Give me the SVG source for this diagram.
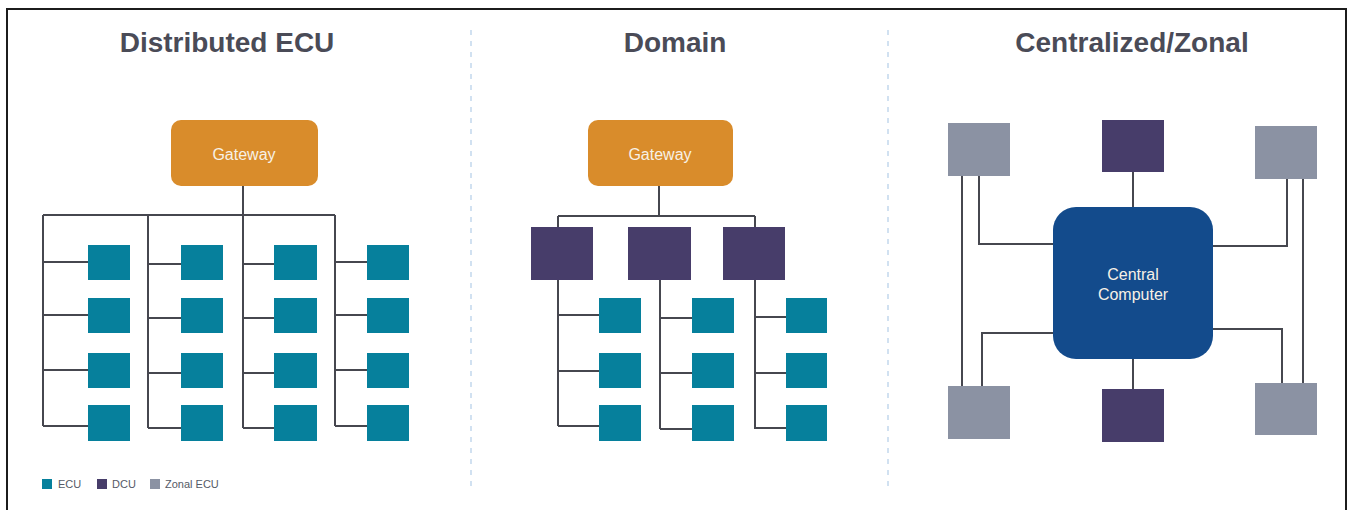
<svg xmlns="http://www.w3.org/2000/svg" width="1350" height="510" viewBox="0 0 1350 510">
  <style>
    .title { font-family: "Liberation Sans", Arial, sans-serif; font-weight: bold; font-size: 28px; fill: #4a4b57; text-anchor: middle; }
    .label { font-family: "Liberation Sans", Arial, sans-serif; font-size: 16px; fill: #f7f1e6; text-anchor: middle; }
    .legend { font-family: "Liberation Sans", Arial, sans-serif; font-size: 11px; fill: #555a66; }
    .ecu { fill: #06809c; }
    .dcu { fill: #473d6a; }
    .zonal { fill: #8b92a3; }
    .gateway { fill: #d98c2b; }
    .central { fill: #134b8c; }
    .wire { fill: none; stroke: #46474f; stroke-width: 2; }
    .sep { stroke: #b9d1ea; stroke-width: 1.3; stroke-dasharray: 5 6; }
  </style>

  <rect x="0" y="0" width="1350" height="510" fill="#ffffff"/>
  <!-- outer frame (open at the bottom) -->
  <path d="M7,510 V9 H1346 V510" fill="none" stroke="#1c1c1c" stroke-width="2"/>

  <!-- section separators -->
  <line class="sep" x1="471" y1="30" x2="471" y2="488"/>
  <line class="sep" x1="888" y1="30" x2="888" y2="488"/>

  <!-- titles -->
  <text class="title" x="227" y="52">Distributed ECU</text>
  <text class="title" x="675" y="52">Domain</text>
  <text class="title" x="1132" y="52">Centralized/Zonal</text>

  <!-- connectors -->
  <g id="connectors">
    <!-- distributed -->
    <path class="wire" d="M243,186 V215 M43,215 H335"/>
    <path class="wire" d="M43,215 V426 M43,262 H88 M43,315 H88 M43,370 H88 M43,426 H88"/>
    <path class="wire" d="M148,215 V428 M148,264 H181 M148,318 H181 M148,373 H181 M148,428 H181"/>
    <path class="wire" d="M243,215 V428 M243,264 H274 M243,318 H274 M243,373 H274 M243,428 H274"/>
    <path class="wire" d="M335,215 V426 M335,262 H367 M335,315 H367 M335,370 H367 M335,426 H367"/>
    <!-- domain -->
    <path class="wire" d="M659,186 V216 M558,216 H755 M558,216 V227 M755,216 V227"/>
    <path class="wire" d="M558,280 V426 M558,315 H599 M558,371 H599 M558,426 H599"/>
    <path class="wire" d="M660,280 V429 M660,318 H692 M660,373 H692 M660,429 H692"/>
    <path class="wire" d="M755,280 V429 M755,317 H786 M755,373 H786 M755,428 H786"/>
    <!-- centralized / zonal -->
    <path class="wire" d="M1133,172 V207 M1133,359 V389"/>
    <path class="wire" d="M962,176 V386 M979,176 V244 H1053 M982,386 V333 H1053"/>
    <path class="wire" d="M1303,179 V383 M1287,179 V246 H1213 M1282,383 V329 H1213"/>
  </g>

  <!-- Distributed ECU -->
  <g id="gateway-distributed">
    <rect class="gateway" x="171" y="120" width="147" height="66" rx="10"/>
    <text class="label" x="244" y="160">Gateway</text>
  </g>
  <g id="ecus-distributed">
    <rect class="ecu" x="88" y="245" width="42" height="35"/>
    <rect class="ecu" x="88" y="298" width="42" height="35"/>
    <rect class="ecu" x="88" y="353" width="42" height="35"/>
    <rect class="ecu" x="88" y="405" width="42" height="36"/>
    <rect class="ecu" x="181" y="245" width="42" height="35"/>
    <rect class="ecu" x="181" y="298" width="42" height="35"/>
    <rect class="ecu" x="181" y="353" width="42" height="35"/>
    <rect class="ecu" x="181" y="405" width="42" height="36"/>
    <rect class="ecu" x="274" y="245" width="43" height="35"/>
    <rect class="ecu" x="274" y="298" width="43" height="35"/>
    <rect class="ecu" x="274" y="353" width="43" height="35"/>
    <rect class="ecu" x="274" y="405" width="43" height="36"/>
    <rect class="ecu" x="367" y="245" width="42" height="35"/>
    <rect class="ecu" x="367" y="298" width="42" height="35"/>
    <rect class="ecu" x="367" y="353" width="42" height="35"/>
    <rect class="ecu" x="367" y="405" width="42" height="36"/>
  </g>

  <!-- Domain -->
  <g id="gateway-domain">
    <rect class="gateway" x="588" y="120" width="145" height="66" rx="10"/>
    <text class="label" x="660" y="160">Gateway</text>
  </g>
  <g id="dcus-domain">
    <rect class="dcu" x="531" y="227" width="62" height="53"/>
    <rect class="dcu" x="628" y="227" width="63" height="53"/>
    <rect class="dcu" x="723" y="227" width="62" height="53"/>
  </g>
  <g id="ecus-domain">
    <rect class="ecu" x="599" y="298" width="42" height="35"/>
    <rect class="ecu" x="599" y="353" width="42" height="35"/>
    <rect class="ecu" x="599" y="405" width="42" height="36"/>
    <rect class="ecu" x="692" y="298" width="42" height="35"/>
    <rect class="ecu" x="692" y="353" width="42" height="35"/>
    <rect class="ecu" x="692" y="405" width="42" height="36"/>
    <rect class="ecu" x="786" y="298" width="41" height="35"/>
    <rect class="ecu" x="786" y="353" width="41" height="35"/>
    <rect class="ecu" x="786" y="405" width="41" height="36"/>
  </g>

  <!-- Centralized / Zonal -->
  <g id="central-computer">
    <rect class="central" x="1053" y="207" width="160" height="152" rx="23"/>
    <text class="label" x="1133" y="280">Central</text>
    <text class="label" x="1133" y="300">Computer</text>
  </g>
  <g id="dcu-top"><rect class="dcu" x="1102" y="120" width="62" height="52"/></g>
  <g id="dcu-bottom"><rect class="dcu" x="1102" y="389" width="62" height="53"/></g>
  <g id="zonal-top-left"><rect class="zonal" x="948" y="123" width="62" height="53"/></g>
  <g id="zonal-top-right"><rect class="zonal" x="1255" y="126" width="62" height="53"/></g>
  <g id="zonal-bottom-left"><rect class="zonal" x="948" y="386" width="62" height="53"/></g>
  <g id="zonal-bottom-right"><rect class="zonal" x="1255" y="383" width="62" height="52"/></g>

  <!-- legend -->
  <g id="legend">
    <rect class="ecu" x="42" y="479" width="10" height="10"/>
    <text class="legend" x="58" y="488">ECU</text>
    <rect class="dcu" x="97" y="479" width="10" height="10"/>
    <text class="legend" x="112" y="488">DCU</text>
    <rect class="zonal" x="150" y="479" width="10" height="10"/>
    <text class="legend" x="165" y="488">Zonal ECU</text>
  </g>
</svg>
